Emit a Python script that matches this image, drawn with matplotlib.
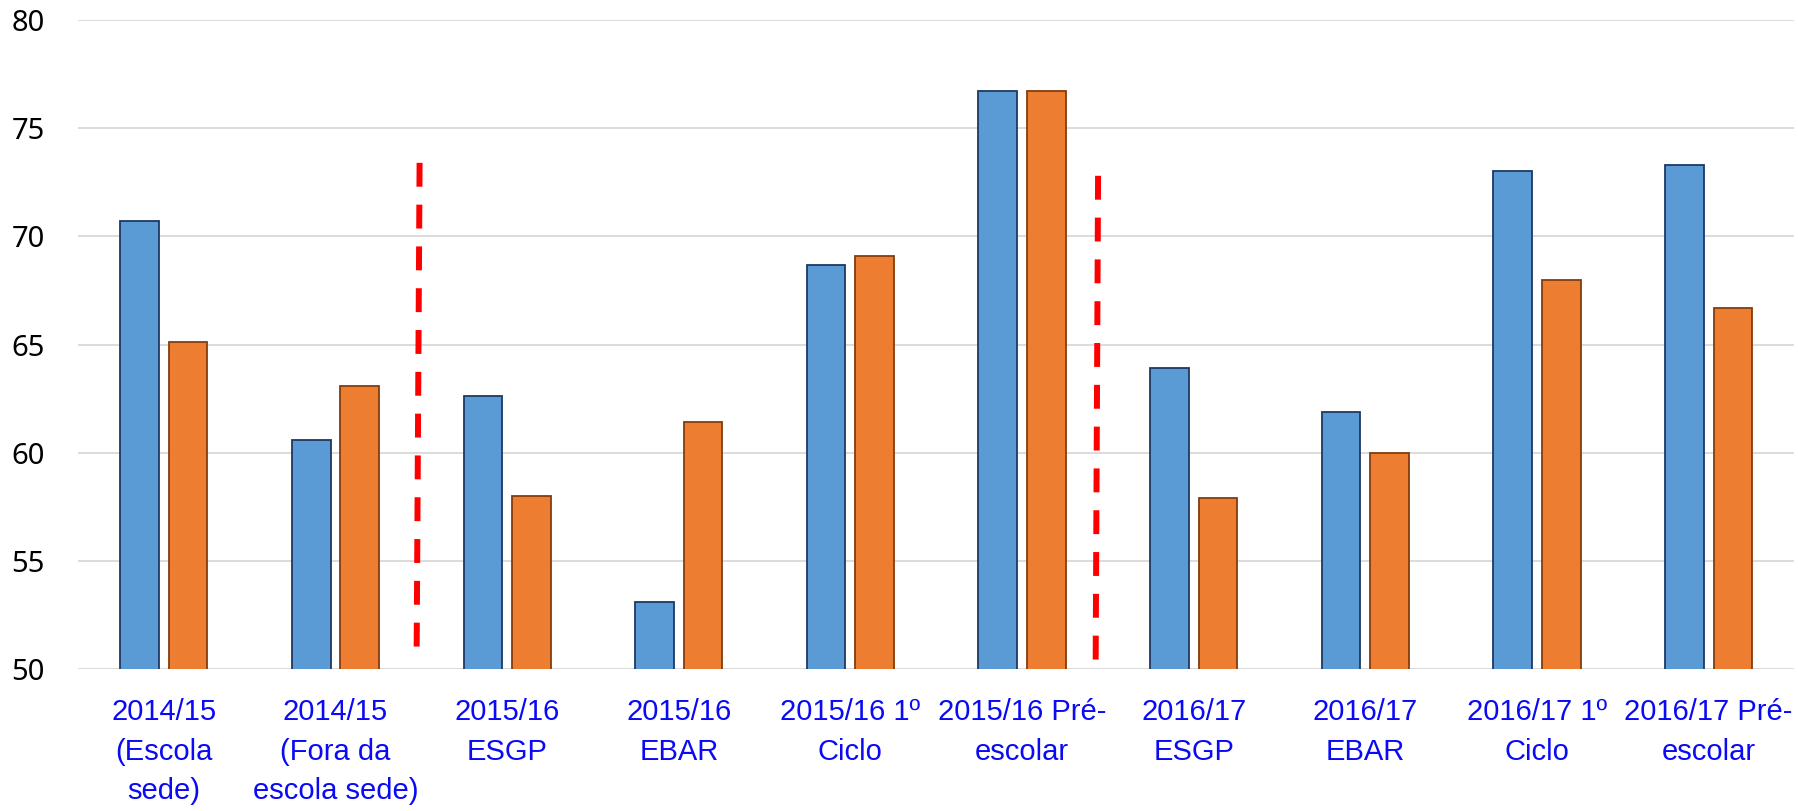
import matplotlib
matplotlib.use("Agg")
import matplotlib.pyplot as plt
import numpy as np

# categorias e valores
categories = [
    "2014/15\n(Escola\nsede)",
    "2014/15\n(Fora da\nescola sede)",
    "2015/16\nESGP",
    "2015/16\nEBAR",
    "2015/16 1º\nCiclo",
    "2015/16 Pré-\nescolar",
    "2016/17\nESGP",
    "2016/17\nEBAR",
    "2016/17 1º\nCiclo",
    "2016/17 Pré-\nescolar",
]
serie_azul = [70.7, 60.6, 62.6, 53.1, 68.7, 76.7, 63.9, 61.9, 73.0, 73.3]
serie_laranja = [65.1, 63.1, 58.0, 61.4, 69.1, 76.7, 57.9, 60.0, 68.0, 66.7]
y_ticks = [50, 55, 60, 65, 70, 75, 80]

# linhas separadoras (x topo, x base, y topo, y base)
separadores = [
    (1.49, 1.473, 73.4, 51.0),
    (5.443, 5.429, 72.8, 50.4),
]

fig = plt.figure(figsize=(17.98, 8.11), dpi=100)
ax = fig.add_axes([0.0434, 0.175, 0.9546, 0.8003])

x = np.arange(len(categories))
w = 0.225
off = 0.1415
ax.bar(x - off, serie_azul, width=w, color="#5B9BD5", edgecolor="#1F3864",
       linewidth=1.3, zorder=3)
ax.bar(x + off, serie_laranja, width=w, color="#ED7D31", edgecolor="#843C0C",
       linewidth=1.3, zorder=3)

for xt, xb, yt, yb in separadores:
    ax.plot([xt, xb], [yt, yb], color="#FF0000", linewidth=4.3,
            linestyle=(0, (4, 3)), zorder=4)

ax.set_xlim(-0.5, len(categories) - 0.5)
ax.set_ylim(50, 80)
ax.tick_params(axis="both", length=0)
ax.tick_params(axis="y", pad=24)
ax.tick_params(axis="x", pad=21)
ax.set_yticks(y_ticks)
ax.set_yticklabels([str(v) for v in y_ticks], fontfamily="Noto Sans",
                   fontsize=21, color="black")
ax.set_xticks(x)
ax.set_xticklabels(categories, fontfamily="Liberation Sans", fontsize=21,
                   color="#0A0AF5", linespacing=1.52)
ax.yaxis.grid(True, color="#D9D9D9", linewidth=1.3, zorder=0)
ax.set_axisbelow(True)
for s in ax.spines.values():
    s.set_visible(False)

fig.savefig("out.png", dpi=100)
